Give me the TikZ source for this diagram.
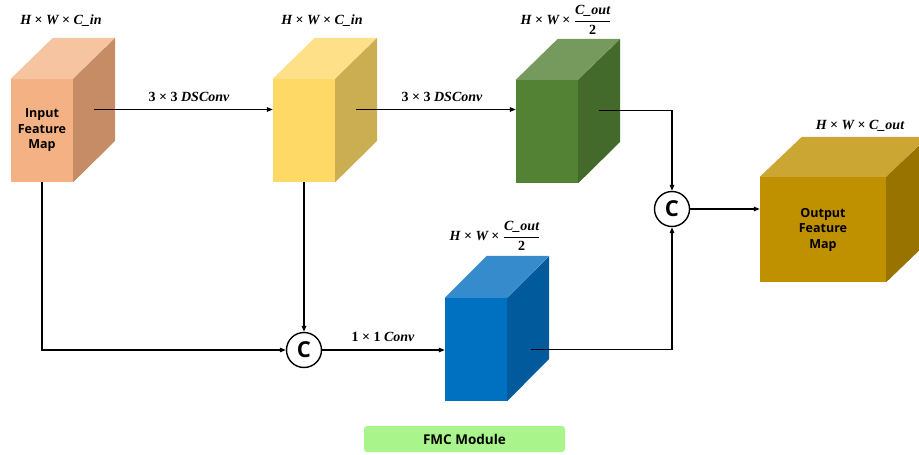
\documentclass[tikz,border=0pt]{standalone}
\usepackage{fontspec}
\usepackage{amsmath}
\usetikzlibrary{arrows.meta}
\newfontfamily\labelfont{Open Sans}
\newfontfamily\dimfont{Liberation Serif}

\definecolor{inFront}{HTML}{F4B183}
\definecolor{inTop}{HTML}{F6C4A0}
\definecolor{inSide}{HTML}{C58C66}
\definecolor{yeFront}{HTML}{FFD966}
\definecolor{yeTop}{HTML}{FEE089}
\definecolor{yeSide}{HTML}{CCAE52}
\definecolor{grFront}{HTML}{548235}
\definecolor{grTop}{HTML}{769A5D}
\definecolor{grSide}{HTML}{436A2A}
\definecolor{blFront}{HTML}{0070C0}
\definecolor{blTop}{HTML}{358BCB}
\definecolor{blSide}{HTML}{005A9B}
\definecolor{ouFront}{HTML}{BF9000}
\definecolor{ouTop}{HTML}{CCA633}
\definecolor{ouSide}{HTML}{997300}
\definecolor{fmcGreen}{HTML}{A9F48B}

\begin{document}
\begin{tikzpicture}[
    x=1pt, y=-1pt,
    >={Triangle[length=6pt,width=4.5pt]},
    face/.style={rectangle, inner sep=0pt, minimum width=62pt, minimum height=103pt, align=center, font=\labelfont\bfseries\fontsize{12.5}{15.5}\selectfont},
    cat/.style={circle, draw, line width=1.4pt, fill=white, minimum size=35pt, inner sep=0pt, font=\labelfont\bfseries\fontsize{22}{22}\selectfont},
    dims/.style={inner sep=0pt, font=\dimfont\bfseries\itshape\fontsize{14}{14}\selectfont},
    link/.style={line width=1.2pt}
]
\useasboundingbox (0,0) rectangle (919,455);

% Front faces of the cubes
\node[face, fill=inFront] (in) at (42,130.5) {Input\\Feature\\Map};
\node[face, fill=yeFront] (ye) at (304,130.5) {};
\node[face, fill=grFront] (gr) at (547,131.5) {};
\node[face, fill=blFront] (bl) at (476,349.5) {};
\node[face, fill=ouFront, minimum width=126pt, minimum height=105pt] (ou) at (823,229.5) {Output\\Feature\\Map};

% Top and side faces
\fill[inTop] (in.north west) -- ++(42,-41) -- ++(62,0) -- (in.north east) -- cycle;
\fill[inSide] (in.north east) -- ++(42,-41) -- ++(0,103) -- (in.south east) -- cycle;
\fill[yeTop] (ye.north west) -- ++(42,-41) -- ++(62,0) -- (ye.north east) -- cycle;
\fill[yeSide] (ye.north east) -- ++(42,-41) -- ++(0,103) -- (ye.south east) -- cycle;
\fill[grTop] (gr.north west) -- ++(42,-41) -- ++(62,0) -- (gr.north east) -- cycle;
\fill[grSide] (gr.north east) -- ++(42,-41) -- ++(0,103) -- (gr.south east) -- cycle;
\fill[blTop] (bl.north west) -- ++(42,-42) -- ++(62,0) -- (bl.north east) -- cycle;
\fill[blSide] (bl.north east) -- ++(42,-42) -- ++(0,103) -- (bl.south east) -- cycle;
\fill[ouTop] (ou.north west) -- ++(42,-40) -- ++(126,0) -- (ou.north east) -- cycle;
\fill[ouSide] (ou.north east) -- ++(42,-40) -- ++(0,105) -- (ou.south east) -- cycle;

% Concat nodes
\node[cat] (c1) at (304,350) {C};
\node[cat] (c2) at (672,209) {C};

% Points on the side faces where lines start
\path (in.east) ++(21,-21) coordinate (inS);
\path (ye.east) ++(21,-21) coordinate (yeS);
\path (gr.east) ++(21,-21) coordinate (grS);
\path (bl.east) ++(24,0) coordinate (blS);

% Connectors
\draw[->, link] (inS) -- (inS -| ye.west);
\draw[->, link] (yeS) -- (yeS -| gr.west);
\draw[->, link] (grS) -| (c2);
\draw[->, link] (blS) -| (c2);
\draw[->, link] (c2) -- (c2 -| ou.west);
\draw[->, link] (in.south) |- (c1);
\draw[->, link] (ye.south) -- (c1.north);
\draw[->, link] (c1) -- (c1 -| bl.west);

% Operation labels
\node[dims] (op1) at (189,97) {{\upshape 3 × 3} DSConv};
\node[dims] (op2) at (442,97) {{\upshape 3 × 3} DSConv};
\node[dims] (op3) at (383,337) {{\upshape 1 × 1} Conv};

% Size labels
\node[dims] (d1) at (61,21) {H {\upshape ×} W {\upshape ×} C\_in};
\node[dims] (d2) at (322,21) {H {\upshape ×} W {\upshape ×} C\_in};
\node[dims] (d3) at (566,20) {H {\upshape ×} W {\upshape ×} $\dfrac{\text{C\_out}}{\text{\upshape 2}}$};
\node[dims] (d4) at (495,236) {H {\upshape ×} W {\upshape ×} $\dfrac{\text{C\_out}}{\text{\upshape 2}}$};
\node[dims] (d5) at (860,126) {H {\upshape ×} W {\upshape ×} C\_out};

% Module name
\node[rectangle, rounded corners=3pt, fill=fmcGreen, minimum width=201pt, minimum height=26pt, font=\labelfont\bfseries\fontsize{13.5}{15}\selectfont] (fmc) at (464.5,439) {FMC Module};

\end{tikzpicture}
\end{document}
